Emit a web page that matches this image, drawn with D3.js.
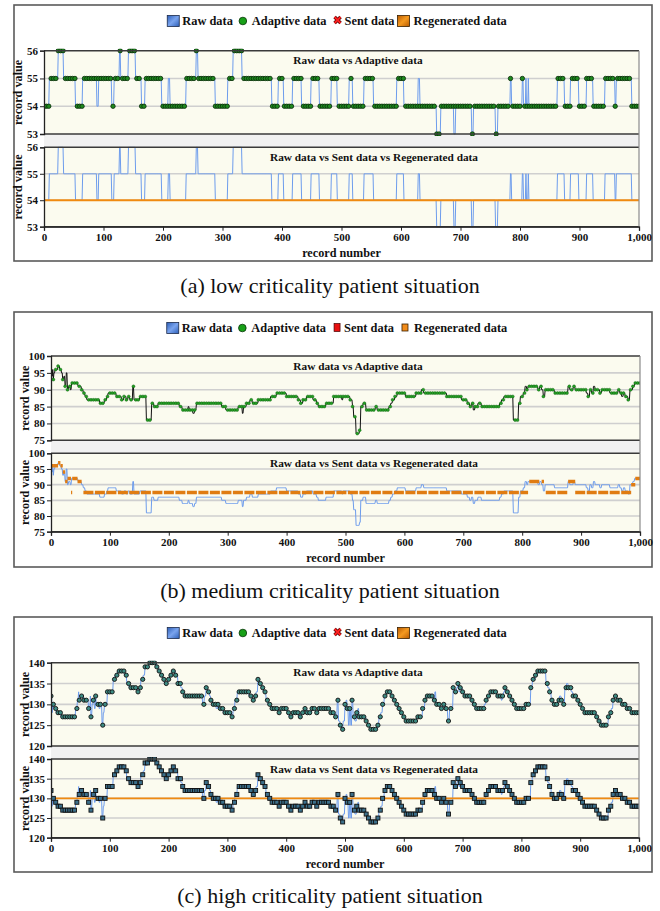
<!DOCTYPE html>
<html><head><meta charset="utf-8">
<script src="https://cdn.jsdelivr.net/npm/d3@7"></script>
<style>
body{margin:0;background:#fff;}
text{font-family:"Liberation Serif","Times New Roman",serif;}
</style>
</head><body>
<svg id="c" width="660" height="911"></svg>
<script>
// ---------------- DATA ----------------
const xTickValues = [0,100,200,300,400,500,600,700,800,900,1000];
const xTickLabels = ["0","100","200","300","400","500","600","700","800","900","1,000"];
const yTicksA = [53,54,55,56];
const yTicksB = [75,80,85,90,95,100];
const yTicksC = [120,125,130,135,140];
const legendLabels = ["Raw data","Adaptive data","Sent data","Regenerated data"];
const upperTitle = "Raw data vs Adaptive data";
const lowerTitle = "Raw data vs Sent data vs Regenerated data";
const captions = ["(a) low criticality patient situation","(b) medium criticality patient situation","(c) high criticality patient situation"];
const xAxisLabel = "record number";
const yAxisLabel = "record value";

// raw data as runs: [first record of run, value]
const rawA = [[0,54],[9,55],[24,56],[33,55],[53,54],[65,55],[89,54],[92,55],[114,54],[118,55],[127,56],[129,55],[142,56],[154,55],[164,54],[170,55],[198,54],[209,55],[212,54],[239,55],[256,56],[259,55],[288,54],[309,55],[318,56],[333,55],[383,54],[394,55],[403,54],[418,55],[433,54],[449,55],[463,54],[483,55],[493,54],[513,55],[519,54],[538,55],[554,54],[593,55],[605,54],[629,55],[632,54],[660,53],[667,54],[689,53],[692,54],[719,53],[722,54],[759,53],[763,54],[784,55],[786,54],[804,55],[806,54],[810,55],[811,54],[814,55],[815,54],[863,55],[875,54],[885,55],[899,54],[912,55],[923,54],[943,55],[960,54],[962,55],[988,54]];

const rawB = [[0,93],[1,96],[2,94],[3,96],[4,93],[5,95],[7,96],[12,97],[15,96],[18,95],[20,93],[22,94],[24,91],[26,95],[28,90],[30,91],[33,90],[35,92],[46,91],[52,90],[55,89],[58,88],[61,87],[83,86],[91,87],[95,88],[97,89],[111,88],[120,87],[124,88],[128,87],[131,88],[134,87],[139,91],[141,87],[151,88],[162,81],[171,86],[175,85],[182,86],[218,85],[223,84],[233,85],[235,84],[241,83],[244,84],[247,86],[290,85],[297,84],[318,85],[325,83],[327,85],[332,86],[338,87],[342,86],[352,87],[373,88],[383,89],[400,88],[420,87],[424,86],[428,87],[434,88],[445,87],[451,86],[454,85],[467,86],[480,88],[494,87],[496,88],[508,87],[512,85],[514,82],[518,77],[524,78],[526,85],[530,86],[535,84],[551,85],[554,84],[574,85],[577,86],[580,87],[584,88],[588,89],[602,88],[620,89],[629,90],[633,89],[672,88],[697,87],[707,86],[711,85],[714,86],[717,84],[720,85],[725,86],[731,85],[762,86],[765,87],[769,88],[785,81],[794,86],[797,88],[802,89],[805,91],[808,90],[810,91],[827,90],[830,91],[833,90],[836,88],[839,90],[855,89],[878,91],[881,90],[887,91],[890,90],[909,89],[912,88],[915,90],[918,89],[921,91],[924,90],[932,89],[935,90],[949,89],[963,90],[966,89],[969,88],[972,89],[975,88],[980,87],[983,90],[988,91],[991,92]];

const rawC = [[0,132],[2,128],[3,130],[5,129],[9,128],[17,127],[42,129],[45,131],[47,133],[48,131],[51,132],[56,131],[64,129],[67,132],[68,127],[70,130],[72,131],[74,129],[76,132],[77,130],[82,129],[84,130],[87,125],[89,128],[91,130],[96,133],[106,136],[109,137],[113,138],[125,137],[129,135],[133,134],[147,133],[150,134],[153,136],[157,137],[160,139],[167,140],[180,139],[183,138],[187,137],[190,136],[193,135],[199,136],[202,137],[206,138],[212,137],[216,135],[221,134],[224,133],[227,132],[258,130],[261,132],[264,134],[267,133],[270,132],[272,131],[275,130],[281,129],[284,130],[286,129],[293,128],[308,127],[310,129],[313,131],[317,133],[337,132],[343,131],[347,132],[349,133],[352,136],[355,135],[358,134],[361,133],[366,131],[369,130],[374,129],[387,128],[391,129],[402,128],[405,127],[411,128],[421,127],[425,128],[431,129],[436,128],[444,129],[450,128],[455,129],[476,128],[484,127],[487,131],[489,126],[492,125],[494,124],[497,126],[500,130],[502,131],[504,129],[506,125],[508,129],[510,125],[512,131],[514,127],[517,126],[520,128],[522,129],[524,127],[536,126],[539,125],[542,124],[556,125],[558,127],[561,128],[564,130],[567,132],[570,133],[579,132],[582,131],[586,130],[590,129],[594,128],[598,127],[603,126],[622,127],[632,129],[636,131],[638,132],[650,131],[653,133],[655,130],[662,129],[667,130],[670,129],[675,126],[678,129],[684,134],[687,133],[690,134],[692,135],[694,133],[696,134],[700,133],[703,132],[713,131],[717,130],[721,129],[737,130],[740,131],[743,132],[746,133],[758,132],[766,131],[768,132],[770,133],[772,134],[775,133],[778,132],[783,131],[786,130],[791,129],[806,130],[816,134],[819,136],[824,137],[828,138],[842,135],[845,134],[848,133],[851,131],[854,130],[862,131],[865,132],[868,131],[871,130],[874,134],[877,135],[880,134],[885,133],[888,132],[894,131],[897,130],[903,129],[906,128],[928,127],[931,126],[936,125],[948,127],[951,128],[953,129],[956,131],[959,132],[962,131],[970,130],[980,129],[986,128]];

// regenerated data: [from record, to record, value]
const regenA = [[0,1000,54]];
const regenB = [[0,5,96],[5,12,96],[12,16,97],[16,20,96],[20,24,94],[24,28,91],[28,34,92],[34,36,87.5],[36,45,92],[45,52,91],[55,810,87.5],[812,830,91],[833,837,91],[840,878,87.5],[878,890,91],[890,985,87.5],[985,992,90],[992,1000,92]];
const regenC = [[0,1000,130]];

// adaptive sampling interval (records) per panel
const adaptiveStep = [4,4,4];

// ---------------- DRAWING ----------------
function expand(runs){
  const out=[];
  for(let i=0;i<runs.length;i++){
    const s=runs[i][0], v=runs[i][1];
    const e = i+1<runs.length ? runs[i+1][0] : 1001;
    for(let r=s;r<e && r<=1000;r++) out.push([r,v]);
  }
  return out;
}

const svg = d3.select("#c");
const defs = svg.append("defs");
const gBlue = defs.append("linearGradient").attr("id","gblue").attr("x1",0).attr("y1",0).attr("x2",1).attr("y2",1);
gBlue.append("stop").attr("offset","0%").attr("stop-color","#2d5fb8");
gBlue.append("stop").attr("offset","50%").attr("stop-color","#7aa4ee");
gBlue.append("stop").attr("offset","100%").attr("stop-color","#2d5fb8");
const gOr = defs.append("linearGradient").attr("id","gor").attr("x1",0).attr("y1",0).attr("x2",1).attr("y2",1);
gOr.append("stop").attr("offset","0%").attr("stop-color","#b85a00");
gOr.append("stop").attr("offset","50%").attr("stop-color","#f59a20");
gOr.append("stop").attr("offset","100%").attr("stop-color","#b85a00");

const panels = [
 {raw:rawA, regen:regenA, yTicks:yTicksA, frame:[14,5,652,261], x0:44, x1:639, up:[50.7,134], lo:[147.3,226.7],
  rawUp:"#6d9cec", dot:{r:2.2,fill:"#1e8a1e",stroke:"#082808",sw:0.8}, sent:"x", regenMark:"big", regenStyle:"line", lowerMarks:false, capY:293, step:adaptiveStep[0]},
 {raw:rawB, regen:regenB, yTicks:yTicksB, frame:[14,312,652,567], x0:51, x1:640, up:[356,440.3], lo:[453.3,531.7],
  rawUp:"#111111", dot:{r:1.5,fill:"#25a025",stroke:"#0d5a0d",sw:0.4}, sent:"sq", regenMark:"small", regenStyle:"dash", lowerMarks:false, capY:598, step:adaptiveStep[1]},
 {raw:rawC, regen:regenC, yTicks:yTicksC, frame:[14,617,652,872], x0:51, x1:639, up:[662.7,746], lo:[759,837.7],
  rawUp:"#6d9cec", dot:{r:2.1,fill:"#3d8a82",stroke:"#111",sw:0.9}, sent:"x", regenMark:"big", regenStyle:"line", lowerMarks:true, capY:903, step:adaptiveStep[2]}
];

panels.forEach((p,pi)=>{
  const data = expand(p.raw);
  const samples = data.filter(d=>d[0]%p.step===0);
  const x = d3.scaleLinear().domain([0,1000]).range([p.x0,p.x1]);
  const yDom = d3.extent(p.yTicks);
  const yU = d3.scaleLinear().domain(yDom).range([p.up[1],p.up[0]]);
  const yL = d3.scaleLinear().domain(yDom).range([p.lo[1],p.lo[0]]);
  const [fx0,fy0,fx1,fy1] = p.frame;

  svg.append("rect").attr("x",fx0).attr("y",fy0).attr("width",fx1-fx0).attr("height",fy1-fy0)
    .attr("fill","#fff").attr("stroke","#5a5a5a").attr("stroke-width",1.6);

  svg.append("rect").attr("x",p.x0).attr("y",p.up[1]).attr("width",p.x1-p.x0).attr("height",p.lo[0]-p.up[1])
    .attr("fill","#f1f1f1");

  // legend
  const lg = svg.append("g");
  let cx = 0;
  const ly = fy0+16;
  legendLabels.forEach((lab,i)=>{
    if(i===0){
      lg.append("rect").attr("x",cx).attr("y",ly-5.5).attr("width",12).attr("height",11).attr("fill","url(#gblue)").attr("stroke","#1b2a4a").attr("stroke-width",0.8);
      cx += 15;
    } else if(i===1){
      cx += 6;
      lg.append("circle").attr("cx",cx+4).attr("cy",ly).attr("r",3.8).attr("fill","#18a018").attr("stroke","#063306").attr("stroke-width",0.8);
      cx += 13;
    } else if(i===2){
      cx += 7;
      if(p.sent==="x"){
        lg.append("path").attr("d",`M${cx+1},${ly-4}L${cx+7},${ly+2}M${cx+7},${ly-4}L${cx+1},${ly+2}`)
          .attr("stroke","#5a0000").attr("stroke-width",3.4).attr("fill","none");
        lg.append("path").attr("d",`M${cx+1},${ly-4}L${cx+7},${ly+2}M${cx+7},${ly-4}L${cx+1},${ly+2}`)
          .attr("stroke","#ff2020").attr("stroke-width",1.8).attr("fill","none");
      } else {
        lg.append("rect").attr("x",cx+1).attr("y",ly-4.5).attr("width",6).attr("height",8).attr("fill","#e81010").attr("stroke","#400").attr("stroke-width",0.7);
      }
      cx += 11;
    } else {
      if(p.regenMark==="big"){
        cx += 3;
        lg.append("rect").attr("x",cx).attr("y",ly-5.5).attr("width",12).attr("height",11).attr("fill","url(#gor)").attr("stroke","#3a2000").attr("stroke-width",0.8);
        cx += 16;
      } else {
        cx += 8;
        lg.append("rect").attr("x",cx).attr("y",ly-4).attr("width",6).attr("height",7).attr("fill","#f28c1a").attr("stroke","#3a2000").attr("stroke-width",0.8);
        cx += 12;
      }
    }
    const t = lg.append("text").attr("x",cx).attr("y",ly+4.2).attr("font-size","12.4px").attr("font-weight","bold").attr("fill","#111").text(lab);
    cx += t.node().getComputedTextLength();
  });
  lg.attr("transform",`translate(${337-cx/2},0)`);

  [["up",yU],["lo",yL]].forEach(([k,y])=>{
    const top = p[k][0], bot = p[k][1];
    const clipId = `clip${pi}${k}`;
    defs.append("clipPath").attr("id",clipId).append("rect").attr("x",p.x0).attr("y",top-2).attr("width",p.x1-p.x0).attr("height",bot-top+4);
    svg.append("rect").attr("x",p.x0).attr("y",top).attr("width",p.x1-p.x0).attr("height",bot-top).attr("fill","#fbfbef");
    svg.append("g").selectAll("line").data(p.yTicks.slice(1,-1)).join("line")
      .attr("x1",p.x0).attr("x2",p.x1).attr("y1",d=>y(d)).attr("y2",d=>y(d))
      .attr("stroke","#cfcfcf").attr("stroke-width",1.6);
    svg.append("text").attr("x",k==="up"?358:374).attr("y",top+13.5).attr("text-anchor","middle")
      .attr("font-size","11.3px").attr("font-weight","bold").attr("fill","#111").text(k==="up"?upperTitle:lowerTitle);

    const g = svg.append("g").attr("clip-path",`url(#${clipId})`);
    const line = d3.line().x(d=>x(d[0])).y(d=>y(d[1]));
    g.append("path").datum(data).attr("d",line).attr("fill","none")
      .attr("stroke", k==="up" ? p.rawUp : "#6d9cec").attr("stroke-width",1);

    if(k==="up"){
      g.append("g").selectAll("circle").data(samples).join("circle")
        .attr("cx",d=>x(d[0])).attr("cy",d=>y(d[1])).attr("r",p.dot.r)
        .attr("fill",p.dot.fill).attr("stroke",p.dot.stroke).attr("stroke-width",p.dot.sw);
    } else {
      g.append("g").selectAll("line").data(p.regen).join("line")
        .attr("x1",d=>x(d[0])).attr("x2",d=>x(d[1])).attr("y1",d=>y(d[2])).attr("y2",d=>y(d[2]))
        .attr("stroke", p.regenStyle==="dash" ? "#e07c12" : "#f08a10")
        .attr("stroke-width", p.regenStyle==="dash" ? 3.5 : 1.8)
        .attr("stroke-dasharray", p.regenStyle==="dash" ? "10,1.5" : null);
      if(p.lowerMarks){
        g.append("g").selectAll("rect").data(samples).join("rect")
          .attr("x",d=>x(d[0])-2).attr("y",d=>y(d[1])-2).attr("width",4).attr("height",4)
          .attr("fill","#3b6f8a").attr("stroke","#111").attr("stroke-width",0.9);
      }
    }
    svg.append("line").attr("x1",p.x0).attr("x2",p.x1).attr("y1",top).attr("y2",top).attr("stroke","#3a3a3a").attr("stroke-width",1.4);
    svg.append("line").attr("x1",p.x0).attr("x2",p.x1).attr("y1",bot).attr("y2",bot).attr("stroke","#3a3a3a").attr("stroke-width",1.4);
    svg.append("line").attr("x1",p.x1).attr("x2",p.x1).attr("y1",top).attr("y2",bot).attr("stroke","#8a8a8a").attr("stroke-width",1.2);

    const ya = svg.append("g").attr("transform",`translate(${p.x0},0)`)
      .call(d3.axisLeft(y).tickValues(p.yTicks).tickSize(4).tickPadding(2).tickFormat(d3.format("d")));
    ya.select(".domain").attr("stroke","#222").attr("stroke-width",1.3);
    ya.selectAll(".tick line").attr("stroke","#222");
    ya.selectAll("text").attr("font-size","11px").attr("font-weight","bold").attr("fill","#111");
    svg.append("text").attr("transform",`translate(${p.x0-22},${(top+bot)/2}) rotate(-90)`)
      .attr("text-anchor","middle").attr("font-size","12.2px").attr("font-weight","bold").attr("fill","#111").text(yAxisLabel);
  });

  svg.append("line").attr("x1",p.x1).attr("x2",p.x1).attr("y1",p.up[1]).attr("y2",p.lo[0]).attr("stroke","#8a8a8a").attr("stroke-width",1.2);

  const xa = svg.append("g").attr("transform",`translate(0,${p.lo[1]})`)
    .call(d3.axisBottom(x).tickValues(xTickValues).tickSize(4).tickPadding(3).tickFormat((d,i)=>xTickLabels[i]));
  xa.select(".domain").attr("stroke","#222").attr("stroke-width",1.3);
  xa.selectAll(".tick line").attr("stroke","#222");
  xa.selectAll("text").attr("font-size","11px").attr("font-weight","bold").attr("fill","#111");
  svg.append("text").attr("x",(p.x0+p.x1)/2).attr("y",p.lo[1]+30).attr("text-anchor","middle")
    .attr("font-size","12.2px").attr("font-weight","bold").attr("fill","#111").text(xAxisLabel);

  svg.append("text").attr("x",330).attr("y",p.capY).attr("text-anchor","middle")
    .attr("font-size","22px").attr("fill","#111").text(captions[pi]);
});
</script>
</body></html>
